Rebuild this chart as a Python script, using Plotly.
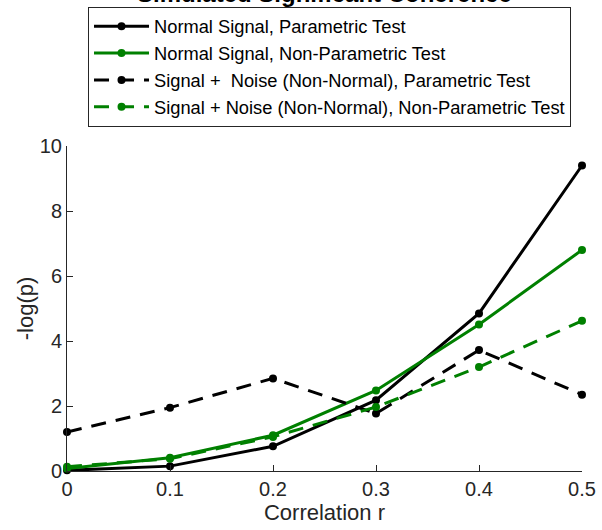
import plotly.graph_objects as go

r_values = [0.0, 0.1, 0.2, 0.3, 0.4, 0.5]
normal_param = [0.02, 0.15, 0.76, 2.18, 4.85, 9.40]
normal_nonparam = [0.08, 0.41, 1.10, 2.48, 4.51, 6.80]
noise_param = [1.20, 1.95, 2.85, 1.77, 3.72, 2.35]
noise_nonparam = [0.13, 0.38, 1.05, 1.97, 3.20, 4.62]

series_names = [
    "Normal Signal, Parametric Test",
    "Normal Signal, Non-Parametric Test",
    "Signal +  Noise (Non-Normal), Parametric Test",
    "Signal + Noise (Non-Normal), Non-Parametric Test",
]
x_ticks = [0, 0.1, 0.2, 0.3, 0.4, 0.5]
x_tick_labels = ["0", "0.1", "0.2", "0.3", "0.4", "0.5"]
y_ticks = [0, 2, 4, 6, 8, 10]
y_tick_labels = ["0", "2", "4", "6", "8", "10"]

BLACK = "#000000"
GREEN = "#008000"
AXC = "#262626"
FONT = "Liberation Sans, Arial, sans-serif"

fig = go.Figure()
specs = [
    (normal_param, BLACK, "solid"),
    (normal_nonparam, GREEN, "solid"),
    (noise_param, BLACK, "15px,10px"),
    (noise_nonparam, GREEN, "15px,10px"),
]
for i, (vals, col, dash) in enumerate(specs):
    fig.add_trace(go.Scatter(
        x=r_values, y=vals, mode="lines+markers", name=series_names[i],
        line=dict(color=col, width=3, dash=dash),
        marker=dict(color=col, size=8),
        cliponaxis=False,
    ))

fig.update_layout(
    width=602, height=530,
    margin=dict(l=67, r=20, t=146, b=59, autoexpand=False),
    plot_bgcolor="white", paper_bgcolor="white",
    font=dict(family=FONT, color=AXC, size=20),
    showlegend=True,
    legend=dict(
        x=0.0408, y=1.428,
        xanchor="left", yanchor="top",
        bgcolor="white", bordercolor=AXC, borderwidth=1,
        font=dict(family=FONT, size=18.3, color="#000000"),
        itemwidth=55,
    ),
    xaxis=dict(
        range=[0, 0.5], tickvals=x_ticks, ticktext=x_tick_labels,
        showgrid=False, zeroline=False, showline=True, linecolor=AXC, linewidth=1,
        ticks="inside", ticklen=6, tickcolor=AXC,
        tickfont=dict(size=20, color=AXC),
        title=dict(text="Correlation r", font=dict(size=22, color=AXC), standoff=4),
    ),
    yaxis=dict(
        range=[0, 10], tickvals=y_ticks, ticktext=y_tick_labels,
        showgrid=False, zeroline=False, showline=True, linecolor=AXC, linewidth=1,
        ticks="inside", ticklen=6, tickcolor=AXC,
        tickfont=dict(size=20, color=AXC),
        title=dict(text="-log(p)", font=dict(size=22, color=AXC), standoff=0),
    ),
    annotations=[dict(
        text="<b>Simulated Significant Coherence</b>",
        x=0.5, xref="paper", y=1.422, yref="paper",
        xanchor="center", yanchor="bottom", showarrow=False,
        font=dict(family=FONT, size=24, color="#000000"),
    )],
)

fig.write_html("out.html")
